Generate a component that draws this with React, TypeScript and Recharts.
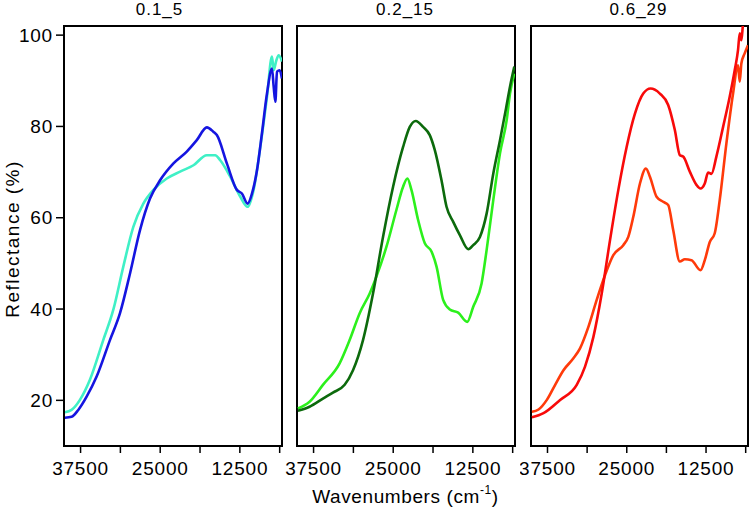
import { LineChart, Line, XAxis, YAxis, ReferenceArea } from 'recharts';

// wavenumber (cm-1), reflectance (%)
const s01Blue: [number, number][] = [
  [39960, 16.2], [38910, 16.4], [37860, 17.9], [36550, 20.8], [34980, 25.2], [32890, 33.2],
  [31310, 39.1], [29740, 47.8], [28170, 57.3], [26600, 64.2], [25020, 68.2], [22920, 71.9],
  [20830, 74.5], [19260, 77.0], [17680, 79.8], [16630, 78.8], [16110, 78.1], [14540, 71.9],
  [12970, 66.1], [12180, 65.3], [11280, 63.1], [10600, 65.3], [9810, 70.4], [9030, 78.5],
  [8240, 87.2], [7460, 92.7], [7190, 88.7], [6930, 85.4], [6670, 92.0], [6250, 92.3], [5890, 90.5],
];
const s01Cyan: [number, number][] = [
  [39960, 17.4], [38910, 17.9], [37600, 20.1], [36030, 24.5], [33940, 33.2], [32370, 39.8],
  [30790, 49.3], [29220, 58.0], [27650, 63.1], [26070, 66.1], [23970, 68.6], [21880, 70.1],
  [19780, 71.5], [17680, 73.7], [16370, 73.7], [15580, 72.6], [14010, 69.0], [12430, 64.6],
  [11280, 62.4], [10340, 66.1], [9290, 75.5], [8240, 86.5], [7460, 95.3], [7190, 92.3],
  [6770, 94.5], [6410, 95.6], [5890, 94.2],
];
const s02Dark: [number, number][] = [
  [39960, 17.7], [38130, 18.6], [36030, 20.4], [34460, 21.7], [32620, 23.4], [31310, 26.6],
  [29740, 33.2], [28170, 43.4], [26600, 55.8], [25020, 66.8], [23450, 75.5], [22400, 79.9],
  [21460, 81.2], [20300, 79.9], [19260, 78.1], [18470, 74.8], [17420, 68.2], [16630, 62.4],
  [15580, 59.1], [14540, 56.2], [13220, 53.1], [12440, 54.0], [11390, 55.8], [10340, 60.9],
  [9290, 69.7], [8240, 77.0], [7300, 83.9], [6670, 88.7], [5990, 93.1],
];
const s02Light: [number, number][] = [
  [39960, 18.2], [38130, 19.7], [36030, 23.4], [33410, 28.1], [31840, 33.2], [30260, 39.1],
  [28690, 43.4], [27640, 47.1], [26070, 53.6], [24500, 61.7], [23450, 66.8], [22770, 68.6],
  [22140, 66.1], [21090, 59.5], [20040, 54.4], [18990, 52.6], [18200, 49.3], [17160, 42.0],
  [16110, 39.9], [14800, 39.2], [13380, 37.2], [12440, 40.5], [11130, 45.6], [10340, 52.9],
  [9290, 63.9], [8240, 74.1], [7190, 81.4], [6670, 87.2], [5990, 91.6],
];
const s06Red: [number, number][] = [
  [39960, 16.3], [38130, 17.2], [35510, 20.1], [32890, 23.4], [31580, 27.4], [30260, 33.9],
  [28950, 43.4], [27640, 55.1], [26330, 66.1], [25020, 75.5], [23710, 82.8], [22400, 87.2],
  [21250, 88.3], [19780, 87.2], [18470, 84.7], [17420, 79.2], [16630, 73.7], [16110, 73.4],
  [15060, 70.1], [14010, 67.2], [13380, 66.4], [12700, 67.5], [12180, 69.9], [11650, 69.6],
  [10870, 73.4], [9810, 79.9], [8770, 86.5], [7980, 92.3], [7460, 96.7], [7190, 100.4],
  [6930, 98.9], [6670, 102.5], [6150, 106],
];
const s06Orange: [number, number][] = [
  [39960, 17.5], [38910, 18.0], [37600, 20.1], [36290, 23.4], [34980, 26.6], [33410, 29.2],
  [32370, 31.4], [31050, 36.1], [29740, 42.0], [28430, 47.4], [27120, 51.8], [25550, 54.0],
  [24760, 55.8], [23970, 60.2], [22920, 67.5], [21980, 70.8], [21350, 69.0], [20300, 64.6],
  [19260, 63.5], [18470, 62.8], [17680, 57.3], [16630, 50.4], [15850, 50.9], [14800, 50.7],
  [13380, 48.5], [12700, 50.7], [11910, 54.7], [11130, 56.6], [10340, 63.9], [9290, 76.3],
  [8240, 87.2], [7460, 93.4], [7190, 89.8], [6930, 93.8], [6410, 96.0], [5890, 97.8],
];

const xTicks = [37500, 31250, 25000, 18750, 12500, 6250];
const xLabelled = [37500, 25000, 12500];
const yTicks = [20, 40, 60, 80, 100];
const xDomain = [5885, 40100];
const yDomain = [10, 102];

const toPoints = (pairs: [number, number][]) => pairs.map(([w, v]) => ({ w, v }));

const tickStyle = { fill: '#000', fontSize: 19, letterSpacing: 0.8 };

interface PanelProps {
  left: number;
  width: number;
  margin: { top: number; right: number; bottom: number; left: number };
  showY: boolean;
  series: { data: [number, number][]; color: string }[];
}

function Panel({ left, width, margin, showY, series }: PanelProps) {
  return (
    <div style={{ position: 'absolute', left, top: 0 }}>
      <LineChart width={width} height={512} margin={margin}>
        <XAxis
          type="number" dataKey="w" domain={xDomain} reversed allowDataOverflow
          ticks={xTicks} interval={0}
          tickFormatter={(v) => (xLabelled.includes(v) ? String(v) : '')}
          tick={tickStyle} tickSize={7} tickMargin={9} height={30}
          axisLine={{ stroke: '#000', strokeWidth: 2 }}
          tickLine={{ stroke: '#000', strokeWidth: 1.5 }}
        />
        <YAxis
          type="number" dataKey="v" domain={yDomain} allowDataOverflow hide={!showY}
          ticks={yTicks} interval={0} width={50}
          tick={tickStyle} tickSize={8} tickMargin={3}
          axisLine={{ stroke: '#000', strokeWidth: 2 }}
          tickLine={{ stroke: '#000', strokeWidth: 1.5 }}
        />
        <ReferenceArea
          x1={xDomain[0]} x2={xDomain[1]} y1={yDomain[0]} y2={yDomain[1]}
          fill="none" stroke="#000" strokeWidth={2} ifOverflow="visible"
        />
        {series.map((s, i) => (
          <Line
            key={i} data={toPoints(s.data)} dataKey="v" type="monotone"
            stroke={s.color} strokeWidth={2.6} dot={false} isAnimationActive={false}
          />
        ))}
      </LineChart>
    </div>
  );
}

export default function App() {
  return (
    <div
      style={{
        position: 'absolute', left: 0, top: 0, width: 750, height: 512, background: '#fff',
        fontFamily: '"Liberation Sans", Arial, sans-serif',
      }}
    >
      <Panel
        left={0} width={290} showY
        margin={{ top: 26, right: 8, bottom: 36, left: 14 }}
        series={[{ data: s01Cyan, color: '#3ff0c6' }, { data: s01Blue, color: '#1515e0' }]}
      />
      <Panel
        left={285} width={240} showY={false}
        margin={{ top: 26, right: 10, bottom: 36, left: 12 }}
        series={[{ data: s02Light, color: '#2cf01c' }, { data: s02Dark, color: '#0c6a0c' }]}
      />
      <Panel
        left={520} width={230} showY={false}
        margin={{ top: 26, right: 2, bottom: 36, left: 11 }}
        series={[{ data: s06Orange, color: '#ff3a0a' }, { data: s06Red, color: '#f80a0a' }]}
      />
      <svg width={750} height={512} style={{ position: 'absolute', left: 0, top: 0, pointerEvents: 'none' }}>
        <g fontSize={17} fill="#000" textAnchor="middle" letterSpacing={1}>
          <text x={159.5} y={15}>0.1_5</text>
          <text x={405} y={15}>0.2_15</text>
          <text x={638.5} y={15}>0.6_29</text>
        </g>
        <text x={405.5} y={503} fontSize={19} textAnchor="middle" fill="#000" letterSpacing={0.6}>
          Wavenumbers (cm
          <tspan fontSize={12} dy={-9}>-1</tspan>
          <tspan dy={9}>)</tspan>
        </text>
        <text
          transform="translate(19,239) rotate(-90)" fontSize={19} textAnchor="middle"
          fill="#000" letterSpacing={1.5}
        >
          Reflectance (%)
        </text>
      </svg>
    </div>
  );
}
